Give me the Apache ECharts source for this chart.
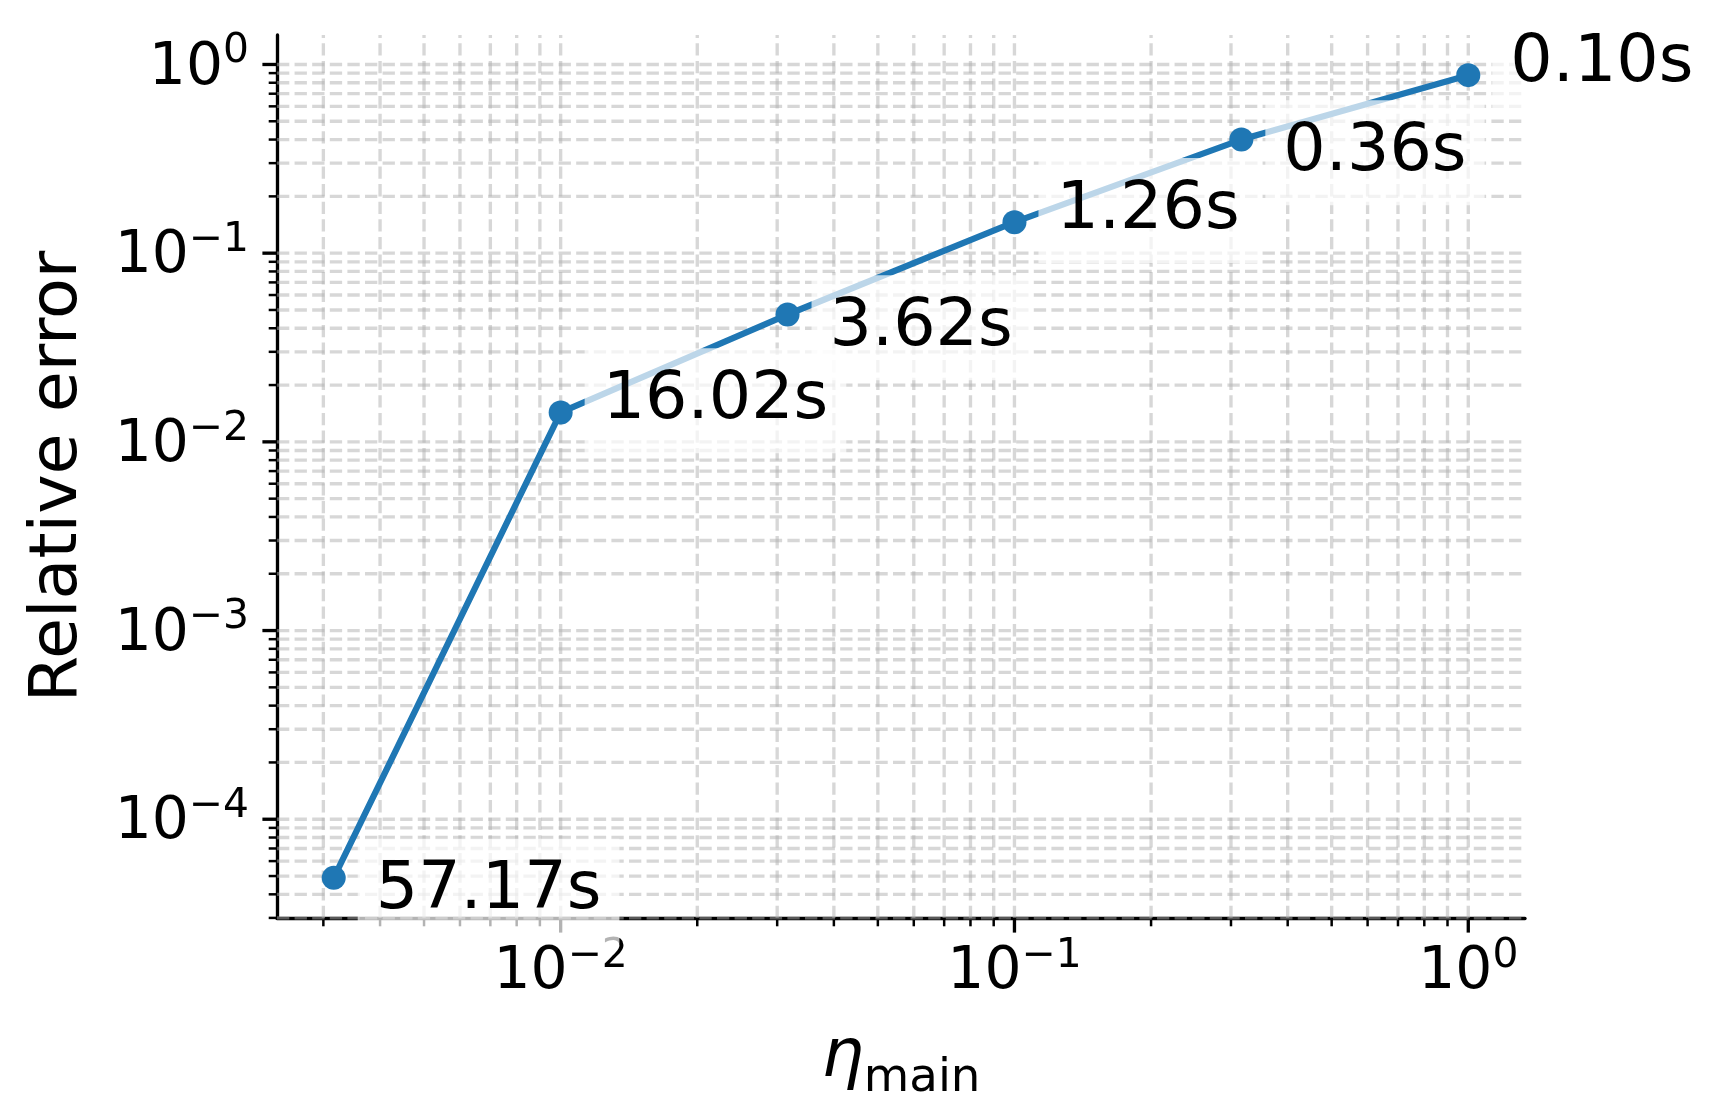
<!DOCTYPE html>
<html><head><meta charset="utf-8">
<script src="https://cdn.jsdelivr.net/npm/echarts@6/dist/echarts.min.js"></script>
<style>html,body{margin:0;padding:0;background:#fff}#c{width:1723px;height:1118px}</style>
</head><body><div id="c"></div><script>
// ---- data ----
const ETA_MAIN = [0.003162, 0.01, 0.03162, 0.1, 0.3162, 1];
const REL_ERROR = [4.89e-5, 0.01432, 0.0473, 0.146, 0.400, 0.878];
const TIMES = ['57.17s', '16.02s', '3.62s', '1.26s', '0.36s', '0.10s'];
const X_MAJOR_TICKS = [0.01, 0.1, 1];
const X_MINOR_TICKS = [0.003, 0.004, 0.005, 0.006, 0.007, 0.008, 0.009,
  0.02, 0.03, 0.04, 0.05, 0.06, 0.07, 0.08, 0.09,
  0.2, 0.3, 0.4, 0.5, 0.6, 0.7, 0.8, 0.9];
const Y_MAJOR_TICKS = [1e-4, 1e-3, 1e-2, 1e-1, 1];
const Y_MINOR_TICKS = [3e-5, 4e-5, 5e-5, 6e-5, 7e-5, 8e-5, 9e-5,
  2e-4, 3e-4, 4e-4, 5e-4, 6e-4, 7e-4, 8e-4, 9e-4,
  2e-3, 3e-3, 4e-3, 5e-3, 6e-3, 7e-3, 8e-3, 9e-3,
  2e-2, 3e-2, 4e-2, 5e-2, 6e-2, 7e-2, 8e-2, 9e-2,
  0.2, 0.3, 0.4, 0.5, 0.6, 0.7, 0.8, 0.9];

// ---- styles ----
const FONT = 'DejaVu Sans';
const BLUE = '#1f77b4';
const GRID_COLOR = 'rgba(176,176,176,0.5)';
const GRID_W = 3.33, GRID_DASH = [12.3, 5.3];
const MAJ_LEN = 14.6, MAJ_W = 3.33, MIN_LEN = 8.3, MIN_W = 2.5;

function logExtent(arr) {
  const l = arr.map(Math.log10);
  const lo = Math.min(...l), hi = Math.max(...l), m = (hi - lo) * 0.05;
  return [Math.pow(10, lo - m), Math.pow(10, hi + m)];
}
const XE = logExtent(ETA_MAIN);
const YE = logExtent(REL_ERROR);
const inside = (v, e) => v >= e[0] && v <= e[1];

function powLabel(v) {
  const e = Math.log10(v), r = Math.round(e);
  if (Math.abs(e - r) > 1e-6) return '';
  const s = r < 0 ? '\u2212' + (-r) : String(r);
  return '{b|10}{s|' + s + '}';
}

const xTickData = X_MAJOR_TICKS.filter(v => inside(v, XE)).map(v => [v, YE[0], 1])
  .concat(X_MINOR_TICKS.filter(v => inside(v, XE)).map(v => [v, YE[0], 0]));
const yTickData = Y_MAJOR_TICKS.filter(v => inside(v, YE)).map(v => [XE[0], v, 1])
  .concat(Y_MINOR_TICKS.filter(v => inside(v, YE)).map(v => [XE[0], v, 0]));

function renderXTick(params, api) {
  const cs = params.coordSys;
  const px = api.coord([api.value(0), api.value(1)])[0];
  const major = api.value(2) === 1;
  const bottom = cs.y + cs.height;
  return { type: 'group', children: [
    { type: 'line', shape: { x1: px, y1: bottom, x2: px, y2: cs.y },
      style: { stroke: GRID_COLOR, lineWidth: GRID_W, lineDash: GRID_DASH, fill: null } },
    { type: 'line', shape: { x1: px, y1: bottom, x2: px, y2: bottom + (major ? MAJ_LEN : MIN_LEN) },
      style: { stroke: '#000', lineWidth: major ? MAJ_W : MIN_W, fill: null } }
  ]};
}
function renderYTick(params, api) {
  const cs = params.coordSys;
  const py = api.coord([api.value(0), api.value(1)])[1];
  const major = api.value(2) === 1;
  return { type: 'group', children: [
    { type: 'line', shape: { x1: cs.x, y1: py, x2: cs.x + cs.width, y2: py },
      style: { stroke: GRID_COLOR, lineWidth: GRID_W, lineDash: GRID_DASH, fill: null } },
    { type: 'line', shape: { x1: cs.x - (major ? MAJ_LEN : MIN_LEN), y1: py, x2: cs.x, y2: py },
      style: { stroke: '#000', lineWidth: major ? MAJ_W : MIN_W, fill: null } }
  ]};
}

const chart = echarts.init(document.getElementById('c'), null, { renderer: 'canvas' });
chart.setOption({
  backgroundColor: '#fff',
  animation: false,
  textStyle: { fontFamily: FONT },
  grid: { left: 277, top: 35, right: 198, bottom: 200, containLabel: false, outerBoundsMode: 'none' },
  xAxis: {
    type: 'log', logBase: 10, min: XE[0], max: XE[1],
    axisLine: { show: true, onZero: false, lineStyle: { color: '#000', width: 3.33 } },
    axisTick: { show: false }, splitLine: { show: false }, minorTick: { show: false },
    axisLabel: {
      show: true, interval: 0, margin: 25, showMinLabel: false, showMaxLabel: false,
      formatter: powLabel, color: '#000', fontFamily: FONT,
      rich: {
        b: { fontSize: 58.3, lineHeight: 60, fontFamily: FONT, color: '#000' },
        s: { fontSize: 40.8, lineHeight: 26, padding: [0, 0, 33.8, 0], fontFamily: FONT, color: '#000' }
      }
    },
    name: '{eta|\u03b7}{sub|main}', nameLocation: 'middle', nameGap: 84,
    nameTextStyle: {
      color: '#000', fontFamily: FONT,
      rich: {
        eta: { fontSize: 66.7, lineHeight: 80, fontStyle: 'italic', fontFamily: FONT, color: '#000' },
        sub: { fontSize: 46.7, lineHeight: 40, padding: [39.8, 0, 0, 0], fontFamily: FONT, color: '#000' }
      }
    }
  },
  yAxis: {
    type: 'log', logBase: 10, min: YE[0], max: YE[1],
    axisLine: { show: true, onZero: false, lineStyle: { color: '#000', width: 3.33 } },
    axisTick: { show: false }, splitLine: { show: false }, minorTick: { show: false },
    axisLabel: {
      show: true, interval: 0, margin: 28, showMinLabel: false, showMaxLabel: false,
      formatter: powLabel, color: '#000', fontFamily: FONT,
      rich: {
        b: { fontSize: 58.3, lineHeight: 60, padding: [8, 0, 0, 0], fontFamily: FONT, color: '#000' },
        s: { fontSize: 40.8, lineHeight: 26, padding: [8, 0, 33.8, 0], fontFamily: FONT, color: '#000' }
      }
    },
    name: 'Relative error', nameLocation: 'middle', nameGap: 185,
    nameTextStyle: { fontSize: 66.7, lineHeight: 66, color: '#000', fontFamily: FONT }
  },
  series: [
    { type: 'custom', name: 'xgrid', coordinateSystem: 'cartesian2d', data: xTickData,
      encode: { x: 0, y: 1 }, renderItem: renderXTick, z: 1, silent: true, clip: false },
    { type: 'custom', name: 'ygrid', coordinateSystem: 'cartesian2d', data: yTickData,
      encode: { x: 0, y: 1 }, renderItem: renderYTick, z: 1, silent: true, clip: false },
    {
      type: 'line', z: 3, silent: true,
      data: ETA_MAIN.map((x, i) => ({
        value: [x, REL_ERROR[i]],
        label: { offset: [0, i % 2 ? -11.7 : 13.3] }
      })),
      symbol: 'circle', symbolSize: 24, showAllSymbol: true,
      itemStyle: { color: BLUE },
      lineStyle: { color: BLUE, width: 6.25 },
      emphasis: { disabled: true },
      label: {
        show: true, position: 'right', distance: 12,
        formatter: p => TIMES[p.dataIndex],
        fontSize: 66.7, lineHeight: 66, fontFamily: FONT, color: '#000',
        backgroundColor: 'rgba(255,255,255,0.7)', padding: [15, 18, 24, 18]
      }
    }
  ]
});
</script></body></html>
